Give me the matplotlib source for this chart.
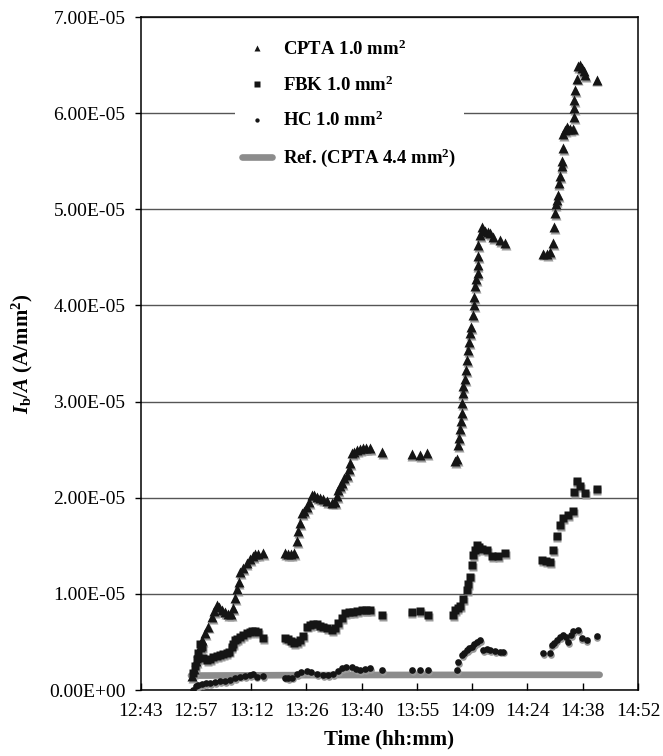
import numpy as np
import matplotlib
matplotlib.use('Agg')
import matplotlib.pyplot as plt
from matplotlib.transforms import offset_copy

plt.rcParams['font.family'] = ['Liberation Serif', 'DejaVu Serif']
plt.rcParams['mathtext.fontset'] = 'custom'
plt.rcParams['mathtext.rm'] = 'Liberation Serif:bold'
plt.rcParams['mathtext.it'] = 'Liberation Serif:italic:bold'
plt.rcParams['mathtext.bf'] = 'Liberation Serif:bold'

# time in minutes after midnight, current density in units of 1e-5 A/mm^2
cpta_t = [776.6, 777.1, 777.6, 778.1, 778.7, 779.2, 780.0, 780.7, 781.7, 782.3,
          783.0, 783.6, 784.4, 785.2, 786.0, 786.7, 787.3, 787.8, 788.3, 788.7,
          789.1, 789.9, 790.8, 791.7, 792.5, 793.0, 793.8, 795.0,
          800.8, 801.6, 802.4, 803.2, 803.9, 804.2, 804.7, 805.2, 805.8, 806.5,
          807.1, 807.8, 808.4, 809.1, 809.9, 810.8, 811.8, 813.0, 813.8, 814.4,
          814.7, 815.1, 815.6, 816.2, 816.9, 817.4, 817.7, 818.2, 818.8, 819.5,
          820.4, 821.2, 821.9, 823.0, 826.0,
          833.8, 836.0, 837.9,
          845.1, 845.6, 846.0, 846.2, 846.4, 846.7, 846.9, 847.0, 847.1, 847.3,
          847.7, 848.0, 848.2, 848.6, 848.8, 849.0, 849.4, 849.9, 850.1, 850.1,
          850.3, 850.7, 851.0, 851.0, 851.1, 851.2, 851.6, 852.1, 852.4, 852.9,
          853.6, 854.2, 855.1, 856.8, 858.1,
          868.1, 869.0, 869.9, 870.7, 870.9, 871.2, 871.3, 871.6, 872.0, 872.1,
          872.5, 872.9, 873.0, 873.2, 873.3, 873.8, 874.2, 874.6, 875.1, 875.9,
          876.1, 876.2, 876.2, 876.4, 877.0, 877.2, 877.7, 878.1, 878.6, 879.0,
          882.0]
cpta_v = [0.15, 0.22, 0.30, 0.40, 0.45, 0.52, 0.59, 0.66, 0.76, 0.82,
          0.88, 0.86, 0.83, 0.81, 0.79, 0.79, 0.85, 0.96, 1.05, 1.12,
          1.23, 1.27, 1.32, 1.36, 1.39, 1.41, 1.41, 1.42,
          1.42, 1.41, 1.41, 1.42, 1.55, 1.65, 1.74, 1.84, 1.86, 1.90,
          1.96, 2.03, 2.03, 2.01, 2.00, 1.99, 1.97, 1.95, 1.96, 2.02,
          2.08, 2.12, 2.15, 2.20, 2.24, 2.30, 2.36, 2.46, 2.48, 2.50,
          2.51, 2.52, 2.52, 2.52, 2.48,
          2.45, 2.44, 2.46,
          2.38, 2.40, 2.55, 2.62, 2.71, 2.80, 2.88, 2.98, 3.09, 3.16,
          3.23, 3.33, 3.43, 3.54, 3.62, 3.71, 3.78, 3.90, 4.00, 4.09,
          4.20, 4.27, 4.34, 4.42, 4.51, 4.63, 4.73, 4.82, 4.78, 4.77,
          4.76, 4.75, 4.71, 4.68, 4.65,
          4.54, 4.53, 4.56, 4.65, 4.82, 4.96, 5.05, 5.10, 5.15, 5.27,
          5.35, 5.45, 5.50, 5.64, 5.78, 5.82, 5.86, 5.84, 5.83, 5.84,
          5.96, 6.05, 6.14, 6.24, 6.36, 6.49, 6.50, 6.47, 6.44, 6.40,
          6.35]

fbk_t = [776.8, 777.4, 777.9, 778.1, 778.7, 779.1, 779.4, 780.4, 781.3, 782.0,
         783.0, 783.9, 784.6, 785.6, 786.2, 786.9, 787.3, 787.8, 788.3, 789.1,
         789.9, 790.8, 791.7, 792.2, 793.0, 793.8, 795.0,
         800.8, 801.6, 802.4, 803.2, 803.9, 804.7, 805.5, 806.5, 807.3, 808.2,
         809.1, 809.9, 810.8, 811.8, 813.0, 813.8, 814.7, 815.6, 816.4, 817.5,
         818.6, 819.7, 820.8, 821.9, 823.0, 826.0,
         833.8, 836.0, 838.1,
         844.7, 845.1, 845.8, 846.4, 847.3, 848.2, 848.6, 849.0, 849.5, 849.9,
         850.3, 850.8, 851.4, 852.1, 853.4, 854.7, 856.4, 858.1,
         867.7, 868.8, 869.9, 870.7, 871.6, 872.5, 873.3, 874.6, 875.9, 876.1,
         876.8, 877.7, 879.0, 882.0]
fbk_v = [0.18, 0.25, 0.32, 0.38, 0.48, 0.45, 0.33, 0.31, 0.32, 0.34,
         0.35, 0.36, 0.37, 0.38, 0.40, 0.45, 0.48, 0.52, 0.53, 0.55,
         0.57, 0.59, 0.60, 0.61, 0.61, 0.60, 0.54,
         0.54, 0.53, 0.51, 0.49, 0.50, 0.52, 0.56, 0.66, 0.68, 0.69,
         0.69, 0.67, 0.66, 0.64, 0.62, 0.64, 0.70, 0.75, 0.80, 0.81,
         0.81, 0.82, 0.83, 0.83, 0.83, 0.78,
         0.81, 0.82, 0.78,
         0.78, 0.83, 0.85, 0.87, 0.95, 1.04, 1.10, 1.18, 1.30, 1.40,
         1.46, 1.51, 1.49, 1.47, 1.46, 1.39, 1.39, 1.42,
         1.35, 1.34, 1.33, 1.46, 1.60, 1.72, 1.79, 1.82, 1.86, 2.06,
         2.17, 2.12, 2.05, 2.09]

hc_t = [776.9, 777.6, 778.2, 779.2, 780.2, 781.3, 782.6, 783.9, 785.2, 786.5,
        787.8, 789.1, 790.4, 791.7, 792.5, 793.4, 795.0,
        800.8, 801.6, 802.6, 803.9, 805.0, 806.5, 807.6, 809.1, 810.8, 812.0,
        813.4, 814.6, 815.6, 816.7, 818.2, 819.3, 820.4, 821.7, 823.0, 826.0,
        833.9, 836.0, 838.1,
        845.6, 846.0, 846.9, 847.5, 848.2, 848.8, 849.5, 850.1, 850.8, 851.6,
        852.5, 853.5, 854.2, 855.5, 856.8, 857.7,
        868.1, 869.9, 870.3, 870.9, 871.6, 872.5, 873.3, 874.0, 874.6, 875.3,
        875.9, 877.2, 878.1, 879.4, 882.0]
hc_v = [0.00, 0.04, 0.05, 0.06, 0.07, 0.07, 0.08, 0.09, 0.09, 0.10,
        0.12, 0.14, 0.15, 0.16, 0.17, 0.14, 0.15,
        0.13, 0.12, 0.13, 0.17, 0.19, 0.20, 0.19, 0.17, 0.16, 0.16,
        0.17, 0.20, 0.23, 0.24, 0.24, 0.22, 0.21, 0.22, 0.23, 0.21,
        0.21, 0.21, 0.21,
        0.21, 0.29, 0.36, 0.39, 0.42, 0.44, 0.45, 0.48, 0.50, 0.52,
        0.42, 0.43, 0.42, 0.41, 0.40, 0.40,
        0.38, 0.38, 0.47, 0.49, 0.52, 0.55, 0.57, 0.55, 0.50, 0.57,
        0.61, 0.62, 0.54, 0.52, 0.56]

ref_t = [776.3, 790.0, 800.0, 820.0, 840.0, 860.0, 882.8]
ref_v = [0.150, 0.152, 0.154, 0.156, 0.157, 0.158, 0.158]

tick_labels = ['12:43', '12:57', '13:12', '13:26', '13:40', '13:55',
               '14:09', '14:24', '14:38', '14:52']

scale = 1e-5
cpta = np.array(cpta_v) * scale
fbk = np.array(fbk_v) * scale
hc = np.array(hc_v) * scale
ref = np.array(ref_v) * scale

fig = plt.figure(figsize=(6.63, 7.56), dpi=100)
ax = fig.add_axes([0.2122, 0.0873, 0.7501, 0.8902])

ax.plot(ref_t, ref, color='#8c8c8c', lw=4.8, solid_capstyle='round', zorder=2,
        label='Ref. (CPTA 4.4 mm$^{2}$)')

# grey drop shadow under the markers, like the original spreadsheet chart
shadow = offset_copy(ax.transData, fig=fig, x=0.6, y=-1.4, units='points')
for t, v, m, s in [(cpta_t, cpta, '^', 7.5), (fbk_t, fbk, 's', 6.0), (hc_t, hc, 'o', 4.8)]:
    ax.plot(t, v, ls='none', marker=m, ms=s, color='#9a9a9a', mec='none',
            transform=shadow, zorder=3)

ax.plot(cpta_t, cpta, ls='none', marker='^', ms=7.5, color='#151515', mec='none',
        zorder=4, label='CPTA 1.0 mm$^{2}$')
ax.plot(fbk_t, fbk, ls='none', marker='s', ms=6.0, color='#151515', mec='none',
        zorder=4, label='FBK 1.0 mm$^{2}$')
ax.plot(hc_t, hc, ls='none', marker='o', ms=4.8, color='#151515', mec='none',
        zorder=4, label='HC 1.0 mm$^{2}$')

x0 = 763.2
ax.set_xlim(x0, x0 + 14.4 * 9)
ax.set_ylim(0, 7e-5)
ax.set_xticks([x0 + 14.4 * i for i in range(10)])
ax.set_xticklabels(tick_labels)
ax.set_yticks(np.arange(0, 8) * 1e-5)
ax.yaxis.set_major_formatter(plt.FuncFormatter(lambda v, p: f'{v:.2E}'))

ax.yaxis.grid(True, color='#555555', lw=1.0)
ax.set_axisbelow(True)
for sp in ax.spines.values():
    sp.set_linewidth(1.1)
    sp.set_color('black')

ax.tick_params(axis='x', direction='in', length=5, width=1, labelsize=14, pad=9)
ax.tick_params(axis='y', direction='out', length=4, width=1, labelsize=14, pad=7)

ax.set_xlabel('Time (hh:mm)', fontsize=15, fontweight='bold', labelpad=7)
ax.set_ylabel(r'$I_{\mathrm{b}}/A$ (A/mm$^{\mathbf{2}}$)', fontsize=15,
              fontweight='bold', labelpad=10)

h, l = ax.get_legend_handles_labels()
order = [1, 2, 3, 0]
leg = ax.legend([h[i] for i in order], [l[i] for i in order], loc='upper left',
                bbox_to_anchor=(0.17, 0.992), frameon=True, framealpha=1,
                edgecolor='none', facecolor='white', fancybox=False,
                prop={'weight': 'bold', 'size': 13.5}, labelspacing=0.88,
                handlelength=1.6, handletextpad=0.6, borderpad=0.4,
                markerscale=0.65)

fig.savefig('out.png', dpi=100)
